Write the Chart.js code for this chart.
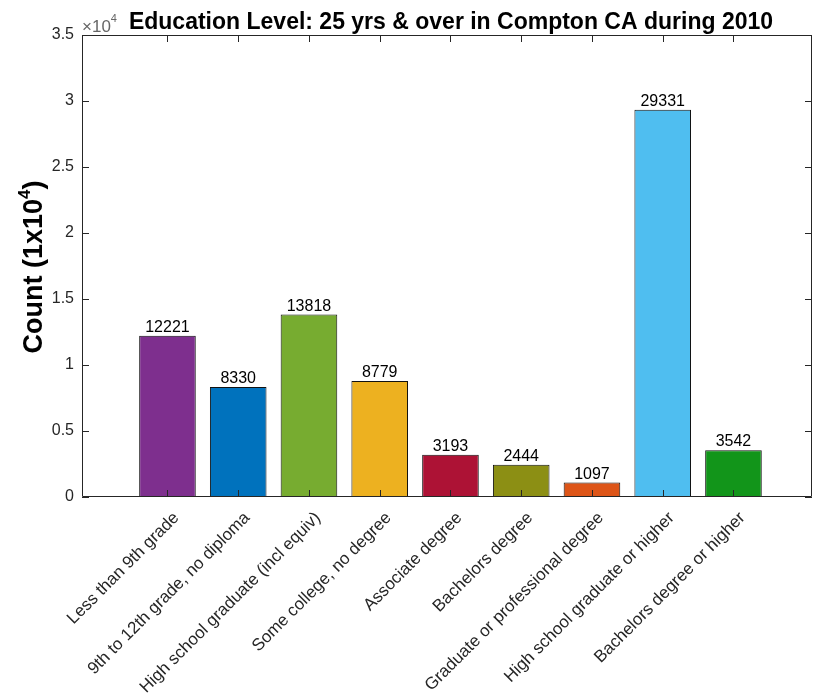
<!DOCTYPE html>
<html><head><meta charset="utf-8">
<script src="https://cdn.jsdelivr.net/npm/chart.js@4/dist/chart.umd.min.js"></script>
<style>html,body{margin:0;padding:0;background:#fff;}#wrap{width:813px;height:694px;position:relative;}</style>
</head><body><div id="wrap"><canvas id="c" width="813" height="694"></canvas></div>
<script>
const categories = [
  'Less than 9th grade',
  '9th to 12th grade, no diploma',
  'High school graduate (incl equiv)',
  'Some college, no degree',
  'Associate degree',
  'Bachelors degree',
  'Graduate or professional degree',
  'High school graduate or higher',
  'Bachelors degree or higher'
];
const counts = [12221, 8330, 13818, 8779, 3193, 2444, 1097, 29331, 3542];
const barColors = ['#7E2F8E', '#0072BD', '#77AC30', '#EDB120', '#AD1235', '#8C8F14', '#DD5518', '#4FBEF0', '#12951A'];
const yTickValues = [0, 5000, 10000, 15000, 20000, 25000, 30000, 35000];
const yTickLabels = ['0', '0.5', '1', '1.5', '2', '2.5', '3', '3.5'];
const titleText = 'Education Level: 25 yrs & over in Compton CA during 2010';
const yLabelMain = 'Count (1x10';
const yLabelSup = '4';
const yLabelEnd = ')';
const exponentBase = '\u00D710';
const exponentSup = '4';

const FONT = '"Liberation Sans", Arial, Helvetica, sans-serif';
const AXIS_COLOR = '#262626';

const decorPlugin = {
  id: 'decor',
  afterDraw(chart) {
    const ctx = chart.ctx;
    const {left, right, top, bottom} = chart.chartArea;
    const xs = chart.scales.x, ys = chart.scales.y;
    ctx.save();
    // box
    ctx.strokeStyle = AXIS_COLOR;
    ctx.lineWidth = 1;
    ctx.beginPath();
    ctx.rect(Math.round(left) + 0.5, Math.round(top) + 0.5, Math.round(right - left) - 1, Math.round(bottom - top) - 1);
    ctx.stroke();
    // ticks
    const tl = 7;
    ctx.beginPath();
    yTickValues.forEach(v => {
      const py = Math.round(ys.getPixelForValue(v)) + 0.5;
      ctx.moveTo(left, py); ctx.lineTo(left + tl, py);
      ctx.moveTo(right, py); ctx.lineTo(right - tl, py);
    });
    categories.forEach((c, i) => {
      const px = Math.round(xs.getPixelForValue(i + 1)) + 0.5;
      ctx.moveTo(px, bottom); ctx.lineTo(px, bottom - tl);
      ctx.moveTo(px, top); ctx.lineTo(px, top + tl);
    });
    ctx.stroke();

    // value labels
    const meta = chart.getDatasetMeta(0);
    ctx.fillStyle = '#000';
    ctx.font = '16px ' + FONT;
    ctx.textAlign = 'center';
    ctx.textBaseline = 'alphabetic';
    meta.data.forEach((el, i) => {
      ctx.fillText(String(counts[i]), el.x, el.y - 4);
    });

    // exponent label
    ctx.fillStyle = '#666';
    ctx.textAlign = 'left';
    ctx.font = '17px ' + FONT;
    ctx.fillText(exponentBase, 82, 32);
    const ew = ctx.measureText(exponentBase).width;
    ctx.font = '11px ' + FONT;
    ctx.fillText(exponentSup, 82 + ew, 22);

    // title
    ctx.font = 'bold 23px ' + FONT;
    ctx.fillStyle = '#000';
    ctx.textAlign = 'center';
    ctx.fillText(titleText, 451, 29);

    // y label
    ctx.translate(42, 267);
    ctx.rotate(-Math.PI / 2);
    ctx.fillStyle = '#000';
    ctx.font = 'bold 27px ' + FONT;
    const w1 = ctx.measureText(yLabelMain).width;
    const w3 = ctx.measureText(yLabelEnd).width;
    ctx.font = 'bold 17px ' + FONT;
    const w2 = ctx.measureText(yLabelSup).width;
    const total = w1 + w2 + w3;
    let x0 = -total / 2;
    ctx.textAlign = 'left';
    ctx.font = 'bold 27px ' + FONT;
    ctx.fillText(yLabelMain, x0, 0);
    ctx.font = 'bold 17px ' + FONT;
    ctx.fillText(yLabelSup, x0 + w1, -12);
    ctx.font = 'bold 27px ' + FONT;
    ctx.fillText(yLabelEnd, x0 + w1 + w2, 0);
    ctx.restore();
  }
};

new Chart(document.getElementById('c'), {
  type: 'bar',
  data: {
    datasets: [{
      data: counts.map((v, i) => ({x: i + 1, y: v})),
      backgroundColor: barColors,
      borderColor: '#111111',
      borderWidth: 1,
      barPercentage: 1.0,
      categoryPercentage: 0.8
    }]
  },
  options: {
    responsive: false,
    animation: false,
    layout: {padding: {left: 0, top: 35, right: 1, bottom: 0}},
    plugins: {legend: {display: false}, tooltip: {enabled: false}, title: {display: false}},
    scales: {
      x: {
        type: 'linear',
        offset: false,
        min: -0.208,
        max: 10.11,
        grid: {display: false, drawTicks: false},
        border: {display: false},
        afterBuildTicks: (scale) => { scale.ticks = categories.map((c, i) => ({value: i + 1})); },
        afterFit: (scale) => { scale.height = 197; },
        ticks: {
          autoSkip: false,
          minRotation: 45,
          maxRotation: 45,
          padding: 11,
          labelOffset: 9,
          color: AXIS_COLOR,
          font: {family: FONT, size: 17},
          callback: (v, i) => categories[i]
        }
      },
      y: {
        min: 0,
        max: 35000,
        grid: {display: false, drawTicks: false},
        border: {display: false},
        afterBuildTicks: (scale) => { scale.ticks = yTickValues.map(v => ({value: v})); },
        afterFit: (scale) => { scale.width = 82; },
        ticks: {
          padding: 8,
          color: AXIS_COLOR,
          font: {family: FONT, size: 16},
          callback: (v, i) => yTickLabels[i]
        }
      }
    }
  },
  plugins: [decorPlugin]
});
</script>
</body></html>
